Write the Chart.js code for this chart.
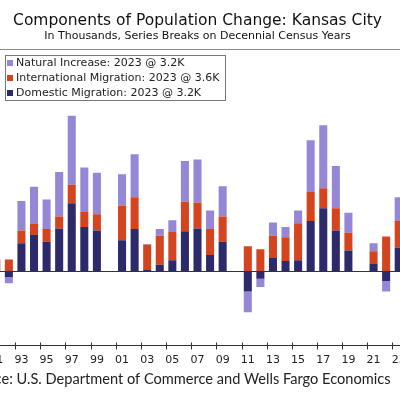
<!DOCTYPE html>
<html>
<head>
<meta charset="utf-8">
<script src="https://cdn.jsdelivr.net/npm/chart.js@4"></script>
<style>
  html, body { margin: 0; padding: 0; background: #fff; overflow: hidden; }
  #wrap { position: relative; width: 400px; height: 396px; overflow: hidden; }
  #chart { position: absolute; left: -43px; top: 0; }
</style>
</head>
<body>
<div id="wrap"><canvas id="chart" width="480" height="396"></canvas></div>
<script>
// Kansas City population change components, thousands (null = census break year)
var years = [1991, 1992, 1993, 1994, 1995, 1996, 1997, 1998, 1999, 2000,
             2001, 2002, 2003, 2004, 2005, 2006, 2007, 2008, 2009, 2010,
             2011, 2012, 2013, 2014, 2015, 2016, 2017, 2018, 2019, 2020,
             2021, 2022, 2023];
var domestic = [0, -0.8, 3.8, 4.9, 4.0, 5.8, 9.2, 6.0, 5.5, null,
                4.2, 5.7, 0.2, 0.9, 1.5, 5.4, 5.8, 2.2, 4.0, null,
                -2.7, -1.0, 1.8, 1.4, 1.5, 6.8, 8.5, 5.5, 2.8, null,
                1.0, -1.3, 3.2];
var international = [1.6, 1.6, 1.7, 1.5, 1.7, 1.6, 2.5, 2.0, 2.2, null,
                     4.7, 4.3, 3.4, 3.9, 3.8, 4.0, 3.5, 3.5, 3.4, null,
                     3.4, 3.0, 3.0, 3.2, 5.0, 3.9, 2.7, 3.0, 2.4, null,
                     1.7, 4.7, 3.6];
var natural = [0, -0.8, 4.0, 5.0, 4.0, 6.0, 9.3, 6.0, 5.6, null,
               4.2, 5.8, 0.1, 0.9, 1.6, 5.5, 5.8, 2.5, 4.1, null,
               -2.8, -1.1, 1.8, 1.4, 1.7, 7.0, 8.5, 5.7, 2.7, null,
               1.1, -1.4, 3.2];
var yMin = -10, yMax = 30;
var sourceText = "Source: U.S. Department of Commerce and Wells Fargo Economics";

var NAVY = "#2d2a6b", ORANGE = "#d4441e", LAVENDER = "#9687d6";

Chart.defaults.font.family = "'DejaVu Sans', Verdana, sans-serif";
Chart.defaults.color = "#222";

var lastOf = function (arr) { return arr[arr.length - 1]; };

// frame, tick marks, legend box, source line
var decorations = {
  id: "decorations",
  afterDraw: function (chart) {
    var ctx = chart.ctx, ca = chart.chartArea, xs = chart.scales.x;
    ctx.save();
    // top frame line
    ctx.strokeStyle = "#8a8a8a";
    ctx.lineWidth = 1;
    ctx.beginPath();
    ctx.moveTo(ca.left, Math.round(ca.top) + 0.5);
    ctx.lineTo(ca.right, Math.round(ca.top) + 0.5);
    ctx.stroke();
    // tick marks crossing the axis on odd years
    ctx.strokeStyle = "#333";
    ctx.beginPath();
    years.forEach(function (y, i) {
      if (y % 2 === 1) {
        var px = Math.round(xs.getPixelForValue(i - 0.5)) + 0.5;
        ctx.moveTo(px, ca.bottom - 3);
        ctx.lineTo(px, ca.bottom + 4);
      }
    });
    ctx.stroke();

    // legend box
    var items = [];
    for (var k = chart.data.datasets.length - 1; k >= 0; k--) {
      var ds = chart.data.datasets[k];
      items.push({ text: ds.label + ": " + years[years.length - 1] + " @ " + lastOf(ds.data).toFixed(1) + "K",
                   color: ds.backgroundColor });
    }
    ctx.font = "11px 'DejaVu Sans'";
    var maxW = 0;
    items.forEach(function (it) { maxW = Math.max(maxW, ctx.measureText(it.text).width); });
    var bx = Math.round(ca.left + 15) + 0.5, by = Math.round(ca.top + 6) + 0.5;
    var bw = Math.round(maxW + 17), bh = 45;
    ctx.fillStyle = "#fff";
    ctx.fillRect(bx, by, bw, bh);
    ctx.strokeStyle = "#777";
    ctx.strokeRect(bx, by, bw, bh);
    ctx.textBaseline = "middle";
    items.forEach(function (it, i) {
      var cy = by + 7.5 + i * 15;
      ctx.fillStyle = it.color;
      ctx.fillRect(bx + 1.5, cy - 3, 6, 6);
      ctx.fillStyle = "#222";
      ctx.fillText(it.text, bx + 10.5, cy);
    });

    // source line
    ctx.font = "14.6px Lato";
    ctx.textAlign = "right";
    ctx.fillStyle = "#222";
    ctx.fillText(sourceText, ca.right - 14.5, chart.height - 17);
    ctx.restore();
  }
};

new Chart(document.getElementById("chart"), {
  type: "bar",
  data: {
    labels: years,
    datasets: [
      { label: "Domestic Migration", data: domestic, backgroundColor: NAVY },
      { label: "International Migration", data: international, backgroundColor: ORANGE },
      { label: "Natural Increase", data: natural, backgroundColor: LAVENDER }
    ]
  },
  options: {
    responsive: false,
    devicePixelRatio: 1,
    animation: false,
    layout: { padding: { left: 33, right: 32, top: 0, bottom: 21.3 } },
    datasets: { bar: { categoryPercentage: 1, barPercentage: 0.64, borderWidth: 0 } },
    plugins: {
      legend: { display: false },
      tooltip: { enabled: false },
      title: {
        display: true,
        text: "Components of Population Change: Kansas City",
        font: { size: 15.5, weight: "normal" },
        color: "#111",
        padding: { top: 11.5, bottom: 0 }
      },
      subtitle: {
        display: true,
        text: "In Thousands, Series Breaks on Decennial Census Years",
        font: { size: 11, lineHeight: 1.1 },
        color: "#111",
        padding: { top: 0, bottom: 6.8 }
      }
    },
    scales: {
      x: {
        stacked: true,
        grid: { display: false, drawTicks: false },
        border: { display: true, color: "#333", width: 1 },
        ticks: {
          autoSkip: false,
          maxRotation: 0,
          padding: 8,
          font: { size: 11 },
          color: "#222",
          callback: function (v, i) {
            return years[i] % 2 === 1 ? String(years[i]).slice(2) : "";
          }
        }
      },
      y: {
        stacked: true,
        min: yMin,
        max: yMax,
        z: 1,
        border: { display: false },
        ticks: { display: false, stepSize: 10 },
        grid: {
          drawTicks: false,
          color: function (c) { return c.tick && c.tick.value === 0 ? "#333" : "rgba(0,0,0,0)"; }
        }
      }
    }
  },
  plugins: [decorations]
});
</script>
</body>
</html>
